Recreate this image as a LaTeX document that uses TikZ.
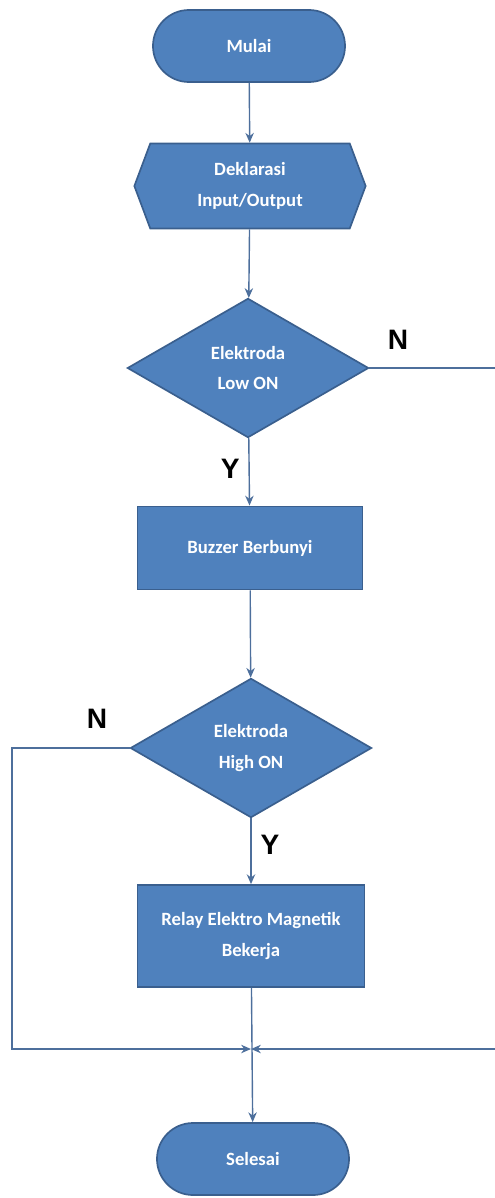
\documentclass[tikz,border=0pt]{standalone}
\usepackage{fontspec}
\setmainfont{Carlito}
\newfontfamily\labelfont{Liberation Sans}
\usetikzlibrary{shapes.geometric,shapes.symbols,arrows.meta,positioning}
\definecolor{boxblue}{HTML}{4F81BD}
\definecolor{boxedge}{HTML}{3A5F8E}
\definecolor{linkblue}{HTML}{4D6F9C}

\begin{document}
\begin{tikzpicture}[x=0.025cm,y=-0.025cm,
	base node/.style={draw=boxedge,fill=boxblue,line width=1.2pt,text=white,align=center,
		font=\bfseries\fontsize{13.3}{22}\selectfont},
	term node/.style={base node,rectangle,rounded corners=0.9cm,minimum width=4.8cm,minimum height=1.8cm},
	prep node/.style={base node,signal,signal to=west and east,signal pointer angle=139,
		minimum width=5.78cm,minimum height=2.12cm,inner sep=0pt},
	proc node/.style={base node,rectangle,minimum width=5.63cm},
	dec node/.style={base node,diamond,minimum width=6.03cm,minimum height=3.48cm,inner sep=0pt},
	link/.style={draw=linkblue,line width=1pt,-{Stealth[length=7pt,width=6pt]}},
	yn/.style={font=\labelfont\bfseries\fontsize{20}{24}\selectfont}
]
	\useasboundingbox (0,0) rectangle (494,1198);

	\node[term node] (mulai) at (249,46) {Mulai};
	\node[prep node] (decl) at (250,186) {Deklarasi\\Input/Output};
	\node[dec node] (low) at (248,368) {Elektroda\\Low ON};
	\node[proc node,minimum height=2.08cm] (buzz) at (250,548) {Buzzer Berbunyi};
	\node[dec node] (high) at (251,748) {Elektroda\\High ON};
	\node[proc node,minimum width=5.68cm,minimum height=2.55cm] (relay) at (251,936) {Relay Elektro Magnetik\\Bekerja};
	\node[term node] (selesai) at (253,1159) {Selesai};

	\coordinate (join) at (251,1049);
	\coordinate (rtop) at (498,368);
	\coordinate (rbot) at (498,1049);
	\coordinate (ltop) at (12,748);
	\coordinate (lbot) at (12,1049);

	\node[yn] (n1) at (398,340) {N};
	\node[yn] (n2) at (97,719) {N};

	\draw[link] (mulai) -- (decl);
	\draw[link] (decl) -- (low);
	\draw[link] (low) -- node[yn,left=3pt,pos=0.45] (y1) {Y} (buzz);
	\draw[link] (buzz) -- (high);
	\draw[link] (high) -- node[yn,right=3pt,pos=0.4] (y2) {Y} (relay);
	\draw[link] (relay) -- (selesai);
	\draw[link] (low.east) -- (rtop) -- (rbot) -- (join);
	\draw[link] (high.west) -- (ltop) -- (lbot) -- (join);
\end{tikzpicture}
\end{document}
